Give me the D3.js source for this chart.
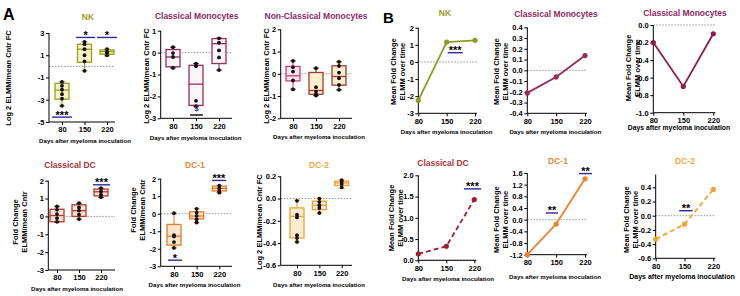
<!DOCTYPE html>
<html><head><meta charset="utf-8">
<script src="https://cdn.jsdelivr.net/npm/d3@7"></script>
<style>body{margin:0;background:#fff}svg{display:block;font-family:"Liberation Sans",Arial,sans-serif}</style>
</head><body><svg id="c" width="740" height="296"></svg>
<script>
const days = [80, 150, 220];

// Box statistics per day: [min, q1, median, q3, max]
const nkBox  = [[-3.55,-2.95,-2.13,-1.52,-1.38],[-0.4,0.37,1.54,1.99,2.22],[0.95,1.09,1.33,1.48,1.55]];
const nkDots = [[-1.4,-1.75,-2.1,-2.5,-2.9,-3.55],[2.2,2.0,1.55,1.0,0.45,-0.4],[1.55,1.3,1.25,1.0]];
const nkSig  = [[49,111,-4.56,"***"],[124,183,2.6,"*"],[189,251,2.6,"*"]];

const cmBox  = [[-0.7,-0.65,-0.2,0.14,0.25],[-2.45,-2.41,-1.44,-0.58,-0.5],[-0.8,-0.5,0.41,0.64,0.66]];
const cmDots = [[0.25,-0.02,-0.2,-0.7],[-0.5,-0.62,-2.2,-2.45],[0.65,0.45,0.1,-0.22,-0.8]];
const cmSig  = [[132,171,-2.85,"$"]];

const ncmBox  = [[-0.69,-0.32,-0.09,0.33,0.58],[-0.98,-0.92,-0.75,0.06,0.26],[-0.72,-0.51,-0.12,0.36,0.54]];
const ncmDots = [[0.58,0.3,0.1,-0.3,-0.7],[0.25,-0.6,-0.8,-0.93,-0.98],[0.54,0.35,0.05,-0.2,-0.5,-0.72]];
const ncmSig  = [];

const cdcBox  = [[-0.32,-0.3,0.05,0.4,0.56],[-0.15,0,0.32,0.65,0.74],[1.06,1.15,1.38,1.53,1.58]];
const cdcDots = [[0.56,0.37,0.13,-0.1,-0.3],[0.74,0.5,0.32,0.1,-0.15],[1.58,1.4,1.22,1.08]];
const cdcSig  = [[194.5,248.7,1.77,"***"]];

const dc1Box  = [[-1.95,-1.79,-1.28,-0.61,0.03],[-0.51,-0.29,-0.13,0.11,0.29],[1.2,1.3,1.45,1.58,1.62]];
const dc1Dots = [[0.03,-1.22,-1.3,-1.62,-1.95],[0.28,0.06,-0.13,-0.32,-0.5],[1.6,1.45,1.3,1.2]];
const dc1Sig  = [[61.5,104.7,-2.65,"*"],[197.4,240.7,1.9,"***"]];

const dc2Box  = [[-0.39,-0.354,-0.16,-0.084,-0.015],[-0.13,-0.1,-0.06,-0.024,0],[0.09,0.117,0.14,0.156,0.17]];
const dc2Dots = [[-0.02,-0.145,-0.17,-0.33,-0.355,-0.39],[0,-0.03,-0.06,-0.085,-0.13],[0.165,0.15,0.13,0.1]];
const dc2Sig  = [];

// Mean fold change over time (panel B)
const nkMean  = [-2.25, 1.16, 1.26];
const cmMean  = [-0.21, -0.062, 0.137];
const cm2Mean = [-0.2, -0.7, -0.1];
const cdcMean = [0.15, 0.33, 1.43];
const dc1Mean = [-1.2, -0.15, 1.4];
const dc2Mean = [-0.33, -0.12, 0.37];

const nkLineSig  = [[152.5,189.5,0.54,"***"]];
const cmLineSig  = [];
const cm2LineSig = [];
const cdcLineSig = [[194,237,1.68,"***"]];
const dc1LineSig = [[125,154.5,0.23,"**"],[205.5,237,1.58,"**"]];
const dc2LineSig = [[137,170,0.07,"**"]];

// Tick labels
const ticksNK  = [-5,-3,-1,1,3];
const ticksCM  = [-3,-2,-1,0,1];
const ticksNCM = [-2,-1,0,1,2];
const ticksDC  = [-3,-2,-1,0,1,2];
const ticksDC2 = [-0.6,-0.4,-0.2,0,0.2];
const ticksB1 = [-3,-2,-1,0,1,2];
const ticksB2 = [-0.4,-0.3,-0.2,-0.1,0,0.1,0.2,0.3,0.4];
const ticksB3 = [-1,-0.8,-0.6,-0.4,-0.2,0];
const ticksB4 = [0,0.5,1,1.5,2];
const ticksB5 = [-1.2,-0.8,-0.4,0,0.4,0.8,1.2,1.6];
const ticksB6 = [-0.6,-0.4,-0.2,0,0.2,0.4];

const svg = d3.select("#c");
const SIGBLUE = "#2b2b9c";
const fInt = d => String(d).replace("\u2212","-");
const f1 = d => d3.format(".1f")(d).replace("\u2212","-");

const LOG = ["Log 2 ELMM/mean Cntr FC"];
const FCL = ["Fold Change","ELMM/mean Cntr"];
const MFC = ["Mean Fold Change","ELMM over time"];

const boxPanels = [
  {title:"NK", tc:"#9c9c24", box:nkBox, dots:nkDots, sig:nkSig, stroke:["#9d9d1f","#9d9d1f","#9d9d1f"], fill:["#f6f3c6","#f6f3c6","#f6f3c6"],
   ax:49, cx:[62,107], xEnd:115, yr:[122,33], dom:[-5,3], ticks:ticksNK, fmt:fInt, tx:88, ty:17, yl:LOG, lx:8, ly:78, xlx:85, xly:140},
  {title:"Classical Monocytes", tc:"#8e2a5e", box:cmBox, dots:cmDots, sig:cmSig, stroke:["#9a2c5e","#9a2c5e","#9a2c5e"], fill:["#fdf6f8","#fdf6f8","#fdf6f8"],
   ax:160.7, cx:[173,219], xEnd:232, yr:[118.3,30.7], dom:[-3,1], ticks:ticksCM, fmt:fInt, tx:196.7, ty:16, yl:LOG, lx:146.5, ly:76, xlx:195.7, xly:137.3},
  {title:"Non-Classical Monocytes", tc:"#8e2a6a", box:ncmBox, dots:ncmDots, sig:ncmSig, stroke:["#c8407a","#a53a2e","#a53a2e"], fill:["#fbe4ec","#fdf0d0","#fdf0d0"],
   ax:280.7, cx:[293,339], xEnd:352, yr:[118.3,29.3], dom:[-2,2], ticks:ticksNCM, fmt:fInt, tx:316, ty:16, yl:LOG, lx:266.5, ly:76, xlx:319, xly:136.7},
  {title:"Classical DC", tc:"#a8383a", box:cdcBox, dots:cdcDots, sig:cdcSig, stroke:["#b23c30","#b23c30","#b23c30"], fill:["#fbe2d4","#fbe2d4","#fbe2d4"],
   ax:48.3, cx:[57,101], xEnd:115, yr:[270,180.7], dom:[-3,2], ticks:ticksDC, fmt:fInt, tx:70, ty:165, yl:FCL, lx:20, ly:222, xlx:77, xly:288},
  {title:"DC-1", tc:"#e8883a", box:dc1Box, dots:dc1Dots, sig:dc1Sig, stroke:["#e57d2c","#e57d2c","#e57d2c"], fill:["#fde5cf","#fde5cf","#fde5cf"],
   ax:160.7, cx:[174,219.3], xEnd:232, yr:[266.3,178.7], dom:[-3,2], ticks:ticksDC, fmt:fInt, tx:195, ty:165, yl:FCL, lx:137.5, ly:210, xlx:194.5, xly:284.7},
  {title:"DC-2", tc:"#f0a844", box:dc2Box, dots:dc2Dots, sig:dc2Sig, stroke:["#eba33a","#eba33a","#eba33a"], fill:["#fdecd0","#fdecd0","#fdecd0"],
   ax:280.7, cx:[297,341.7], xEnd:352, yr:[265.3,176.3], dom:[-0.6,0.2], ticks:ticksDC2, fmt:f1, tx:319, ty:164.7, yl:LOG, lx:259, ly:222, xlx:319, xly:284.7}
];

const linePanels = [
  {title:"NK", tc:"#9a9a28", mean:nkMean, sig:nkLineSig, color:"#8e9c22", dash:false,
   ax:418.3, cx:[418.3,475], yr:[113.3,27.7], dom:[-3,2], ticks:ticksB1, fmt:fInt, tx:445, ty:13.3, yl:MFC, lx:397.8, ly:71.7, xlx:446.7, xly:131, xfs:6.1},
  {title:"Classical Monocytes", tc:"#8e2a5e", mean:cmMean, sig:cmLineSig, color:"#9a2a60", dash:false,
   ax:527.3, cx:[527.3,585], yr:[113.3,27.3], dom:[-0.4,0.4], ticks:ticksB2, fmt:f1, tx:556, ty:14, yl:MFC, lx:500.8, ly:71.7, xlx:555.3, xly:131, xfs:6.1},
  {title:"Classical Monocytes", tc:"#8e2a5e", mean:cm2Mean, sig:cm2LineSig, color:"#8e1d4e", dash:false,
   ax:653.3, cx:[653.3,713.3], yr:[112.7,25], dom:[-1,0], ticks:ticksB3, fmt:f1, tx:685, ty:12.7, yl:MFC, lx:632.5, ly:68, xlx:679, xly:127.7, xfs:6.8},
  {title:"Classical DC", tc:"#a8383a", mean:cdcMean, sig:cdcLineSig, color:"#9e1f30", dash:true,
   ax:418.3, cx:[418.3,474.3], yr:[260.3,175.3], dom:[0,2], ticks:ticksB4, fmt:f1, tx:443, ty:163, yl:MFC, lx:395.8, ly:218, xlx:448, xly:278, xfs:6.1},
  {title:"DC-1", tc:"#e8883a", mean:dc1Mean, sig:dc1LineSig, color:"#ee8030", dash:false,
   ax:527.3, cx:[527.3,585], yr:[254.7,173], dom:[-1.2,1.6], ticks:ticksB5, fmt:f1, tx:558, ty:161.3, yl:MFC, lx:500.8, ly:219.7, xlx:555, xly:276.3, xfs:6.1},
  {title:"DC-2", tc:"#f0a844", mean:dc2Mean, sig:dc2LineSig, color:"#f2a432", dash:true,
   ax:655.7, cx:[655.7,713.3], yr:[258.3,174.5], dom:[-0.6,0.58], ticks:ticksB6, fmt:f1, tx:685, ty:161.3, yl:MFC, lx:630.8, ly:219.7, xlx:682, xly:276.3, xfs:7}
];

function common(g, p, x, y, xEnd) {
  if (p.dom[0] <= 0 && p.dom[1] >= 0) {
    g.append("line").attr("x1", p.ax).attr("x2", xEnd).attr("y1", y(0)).attr("y2", y(0))
      .attr("stroke", "#8a8a8a").attr("stroke-width", 0.9).attr("stroke-dasharray", "1.5,1.5");
  }
  const gy = g.append("g").attr("transform", `translate(${p.ax},0)`)
    .call(d3.axisLeft(y).tickValues(p.ticks).tickFormat(p.fmt).tickSize(3).tickPadding(1.5).tickSizeOuter(0));
  gy.select(".domain").remove();
  g.append("line").attr("x1", p.ax).attr("x2", p.ax).attr("y1", y.range()[0]).attr("y2", y.range()[1]).attr("stroke", "#000").attr("stroke-width", 1);
  const gx = g.append("g").attr("transform", `translate(0,${y.range()[0]})`)
    .call(d3.axisBottom(x).tickValues(days).tickFormat(d => d).tickSize(3).tickPadding(2).tickSizeOuter(0));
  gx.select(".domain").remove();
  g.append("line").attr("x1", p.ax).attr("x2", xEnd).attr("y1", y.range()[0]).attr("y2", y.range()[0]).attr("stroke", "#000").attr("stroke-width", 1);
  g.selectAll(".tick line").attr("stroke", "#000").attr("stroke-width", 1);
  g.selectAll(".tick text").attr("font-size", 7.5).attr("font-weight", "bold").attr("fill", "#000")
    .attr("font-family", '"Liberation Sans",Arial,sans-serif');
  g.append("text").attr("x", p.tx).attr("y", p.ty).attr("text-anchor", "middle").attr("dominant-baseline", "central")
    .attr("font-size", 8.5).attr("font-weight", "bold").attr("fill", p.tc).text(p.title);
  const yl = g.append("text").attr("transform", `translate(${p.lx},${p.ly}) rotate(-90)`)
    .attr("text-anchor", "middle").attr("font-size", 7.5).attr("font-weight", "bold").attr("fill", "#000");
  p.yl.forEach((t, i) => {
    yl.append("tspan").attr("x", 0).attr("y", (i - (p.yl.length - 1) / 2) * 9).attr("dominant-baseline", "central").text(t);
  });
  g.append("text").attr("x", p.xlx).attr("y", p.xly).attr("text-anchor", "middle").attr("dominant-baseline", "central")
    .attr("font-size", p.xfs || 6.1).attr("font-weight", "bold").attr("fill", "#000").text("Days after myeloma inoculation");
}

function drawSig(g, sig, x, y) {
  sig.forEach(s => {
    const by = y(s[2]);
    const dollar = s[3] === "$";
    g.append("line").attr("x1", x(s[0])).attr("x2", x(s[1])).attr("y1", by).attr("y2", by)
      .attr("stroke", dollar ? "#000" : SIGBLUE).attr("stroke-width", 1.4);
    g.append("text").attr("x", (x(s[0]) + x(s[1])) / 2).attr("y", dollar ? by - 4 : by + 1.5)
      .attr("text-anchor", "middle").attr("font-size", dollar ? 8 : 11).attr("font-weight", "bold")
      .attr("fill", dollar ? SIGBLUE : "#000").text(s[3]);
  });
}

boxPanels.forEach(p => {
  const g = svg.append("g");
  const x = d3.scaleLinear().domain([80, 220]).range(p.cx);
  const y = d3.scaleLinear().domain(p.dom).range(p.yr);
  common(g, p, x, y, p.xEnd);
  const bw = 14, cap = 6;
  p.box.forEach((b, i) => {
    const cx = x(days[i]);
    const c = p.stroke[i];
    g.append("line").attr("x1", cx).attr("x2", cx).attr("y1", y(b[4])).attr("y2", y(b[3])).attr("stroke", c).attr("stroke-width", 1.1);
    g.append("line").attr("x1", cx).attr("x2", cx).attr("y1", y(b[1])).attr("y2", y(b[0])).attr("stroke", c).attr("stroke-width", 1.1);
    g.append("line").attr("x1", cx - cap / 2).attr("x2", cx + cap / 2).attr("y1", y(b[4])).attr("y2", y(b[4])).attr("stroke", c).attr("stroke-width", 1.1);
    g.append("line").attr("x1", cx - cap / 2).attr("x2", cx + cap / 2).attr("y1", y(b[0])).attr("y2", y(b[0])).attr("stroke", c).attr("stroke-width", 1.1);
    g.append("rect").attr("x", cx - bw / 2).attr("y", y(b[3])).attr("width", bw).attr("height", Math.max(0.5, y(b[1]) - y(b[3])))
      .attr("fill", p.fill[i]).attr("stroke", c).attr("stroke-width", 1.3);
    g.append("line").attr("x1", cx - bw / 2).attr("x2", cx + bw / 2).attr("y1", y(b[2])).attr("y2", y(b[2])).attr("stroke", c).attr("stroke-width", 1.3);
    p.dots[i].forEach(v => {
      g.append("circle").attr("cx", cx).attr("cy", y(v)).attr("r", 1.9).attr("fill", "#111");
    });
  });
  drawSig(g, p.sig, x, y);
});

linePanels.forEach(p => {
  const g = svg.append("g");
  const x = d3.scaleLinear().domain([80, 220]).range(p.cx);
  const y = d3.scaleLinear().domain(p.dom).range(p.yr);
  common(g, p, x, y, p.cx[1] + 2);
  const line = d3.line().x((d, i) => x(days[i])).y(d => y(d));
  g.append("path").datum(p.mean).attr("d", line).attr("fill", "none").attr("stroke", p.color)
    .attr("stroke-width", 1.8).attr("stroke-dasharray", p.dash ? "5,3" : null);
  g.selectAll("circle.m").data(p.mean).enter().append("circle")
    .attr("cx", (d, i) => x(days[i])).attr("cy", d => y(d)).attr("r", 2.6).attr("fill", p.color);
  drawSig(g, p.sig, x, y);
});

svg.append("text").attr("x", 3).attr("y", 20).attr("font-size", 16).attr("font-weight", "bold").attr("fill", "#000").text("A");
svg.append("text").attr("x", 383).attr("y", 22.7).attr("font-size", 15).attr("font-weight", "bold").attr("fill", "#000").text("B");
</script></body></html>
